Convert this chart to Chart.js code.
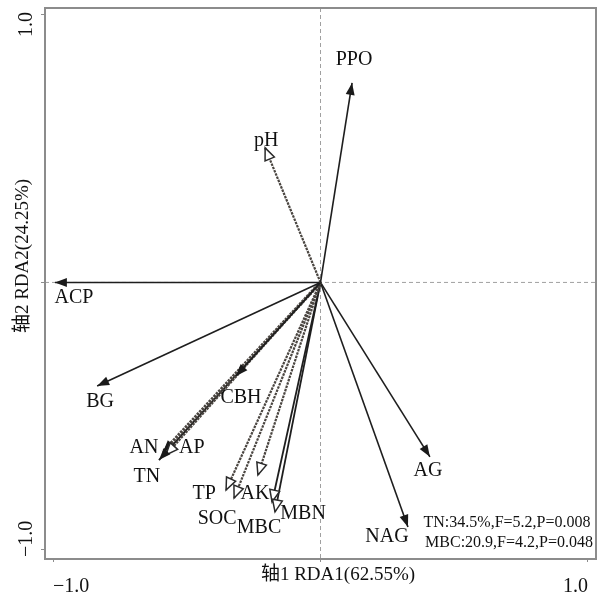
<!DOCTYPE html>
<html>
<head>
<meta charset="utf-8">
<script src="https://cdn.jsdelivr.net/npm/chart.js@4/dist/chart.umd.min.js"></script>
<style>
  body { margin: 0; background: #fff; }
  #wrap { width: 605px; height: 596px; }
</style>
</head>
<body>
<div id="wrap"><canvas id="myChart"></canvas></div>
<script>
// RDA scores
const variables = ['PPO', 'pH', 'ACP', 'BG', 'CBH', 'AN', 'AP', 'TN', 'TP', 'SOC', 'AK', 'MBN', 'MBC', 'AG', 'NAG'];
const rda1 = [0.118, -0.207, -0.993, -0.835, -0.316, -0.589, -0.578, -0.604, -0.353, -0.323, -0.234, -0.181, -0.170, 0.409, 0.327];
const rda2 = [0.746, 0.503, 0.000, -0.387, -0.350, -0.634, -0.645, -0.664, -0.776, -0.806, -0.720, -0.821, -0.858, -0.652, -0.914];

const tickValues = [-1, 0, 1];
const tickLabels = ['−1.0', '', '1.0'];
const xTitle = '轴1 RDA1(62.55%)';
const yTitle = '轴2 RDA2(24.25%)';
const statLines = ['TN:34.5%,F=5.2,P=0.008', 'MBC:20.9,F=4.2,P=0.048'];

// drawing style per arrow
const dashed = [false, true, false, false, false, true, true, false, true, true, true, false, false, false, false];
const openHead = [false, true, false, false, false, false, true, false, true, true, true, true, true, false, false];
const lineWidths = [1.6, 2.2, 1.6, 1.6, 1.6, 3.5, 2.2, 1.8, 2.2, 2.2, 2.2, 1.8, 1.8, 1.6, 1.6];
// label offset from arrow tip (px)
const labelOffsets = [[2, -23], [1, -7], [19, 15], [3, 16], [5, 22], [-19, -4], [26, -7], [-12, 17],
  [-22, 4], [-17, 21], [-3, 19], [31, 12], [-16, 16], [-2, 14], [-21, 10]];

const serif = "'Liberation Serif', 'Noto Sans CJK SC', serif";

const datasets = variables.map((v, i) => ({
  label: v,
  data: [{ x: 0, y: 0 }, { x: rda1[i], y: rda2[i] }],
  showLine: true,
  borderColor: dashed[i] ? '#4a4540' : '#1e1e1e',
  borderWidth: lineWidths[i],
  borderDash: dashed[i] ? [2.5, 1] : [],
  pointRadius: 0,
  pointHoverRadius: 0
}));

const biplotPlugin = {
  id: 'biplot',
  beforeDatasetsDraw(chart) {
    const { ctx, chartArea: a, scales: { x, y } } = chart;
    ctx.save();
    ctx.strokeStyle = '#a0a0a0';
    ctx.lineWidth = 1;
    ctx.setLineDash([4, 3]);
    const x0 = x.getPixelForValue(0), y0 = y.getPixelForValue(0);
    ctx.beginPath();
    ctx.moveTo(x0, a.top); ctx.lineTo(x0, a.bottom);
    ctx.moveTo(a.left, y0); ctx.lineTo(a.right, y0);
    ctx.stroke();
    ctx.restore();
  },
  afterDatasetsDraw(chart) {
    const { ctx, chartArea: a, scales: { y } } = chart;
    ctx.save();
    // arrow heads
    chart.data.datasets.forEach((ds, i) => {
      const pts = chart.getDatasetMeta(i).data;
      const p0 = pts[0], p1 = pts[1];
      const ang = Math.atan2(p1.y - p0.y, p1.x - p0.x);
      const len = 12, half = openHead[i] ? 5 : 4.5;
      const bx = p1.x - len * Math.cos(ang), by = p1.y - len * Math.sin(ang);
      ctx.beginPath();
      ctx.moveTo(p1.x, p1.y);
      ctx.lineTo(bx + half * Math.sin(ang), by - half * Math.cos(ang));
      ctx.lineTo(bx - half * Math.sin(ang), by + half * Math.cos(ang));
      ctx.closePath();
      ctx.setLineDash([]);
      if (openHead[i]) {
        ctx.fillStyle = '#fff';
        ctx.fill();
        ctx.strokeStyle = '#2a2a2a';
        ctx.lineWidth = 1.5;
        ctx.stroke();
      } else {
        ctx.fillStyle = '#1a1a1a';
        ctx.fill();
      }
      // label
      ctx.fillStyle = '#111';
      ctx.font = '20px ' + serif;
      ctx.textAlign = 'center';
      ctx.textBaseline = 'middle';
      ctx.fillText(variables[i], p1.x + labelOffsets[i][0], p1.y + labelOffsets[i][1]);
    });

    // frame
    ctx.strokeStyle = '#8c8c8c';
    ctx.lineWidth = 2;
    ctx.strokeRect(a.left, a.top, a.right - a.left, a.bottom - a.top);

    // stats text
    ctx.fillStyle = '#111';
    ctx.font = '16px ' + serif;
    ctx.textAlign = 'center';
    ctx.fillText(statLines[0], 507, 523);
    ctx.fillText(statLines[1], 509, 543);

    // y tick labels (rotated)
    ctx.font = '20px ' + serif;
    y.ticks.forEach((t) => {
      const lab = tickLabels[tickValues.indexOf(t.value)];
      if (!lab) return;
      const py = y.getPixelForValue(t.value);
      ctx.save();
      ctx.translate(27, t.value > 0 ? py - 3 : py + 7);
      ctx.rotate(-Math.PI / 2);
      ctx.textAlign = t.value > 0 ? 'right' : 'left';
      ctx.textBaseline = 'middle';
      ctx.fillText(lab, 0, 0);
      ctx.restore();
    });

    // axis titles
    ctx.font = '19px ' + serif;
    ctx.textAlign = 'center';
    ctx.textBaseline = 'middle';
    ctx.fillText(xTitle, 338, 575);
    ctx.save();
    ctx.translate(23, 256);
    ctx.rotate(-Math.PI / 2);
    ctx.fillText(yTitle, 0, 0);
    ctx.restore();
    ctx.restore();
  }
};

const config = {
  type: 'scatter',
  data: { datasets: datasets },
  options: {
    responsive: true,
    maintainAspectRatio: false,
    animation: false,
    layout: { padding: { top: 8, right: 9, left: 0, bottom: 0 } },
    plugins: { legend: { display: false }, tooltip: { enabled: false } },
    scales: {
      x: {
        type: 'linear',
        min: -1.03,
        max: 1.03,
        afterBuildTicks: (s) => { s.ticks = tickValues.map(v => ({ value: v })); },
        afterFit: (s) => { s.height = 37; },
        grid: { drawOnChartArea: false, drawTicks: true, tickLength: 3, color: '#8c8c8c' },
        border: { display: false },
        ticks: {
          align: 'inner',
          padding: 13,
          color: '#111',
          font: { family: serif, size: 20 },
          callback: (v) => tickLabels[tickValues.indexOf(v)]
        }
      },
      y: {
        type: 'linear',
        min: -1.034,
        max: 1.026,
        afterBuildTicks: (s) => { s.ticks = tickValues.map(v => ({ value: v })); },
        afterFit: (s) => { s.width = 45; },
        grid: { drawOnChartArea: false, drawTicks: true, tickLength: 4, color: '#8c8c8c' },
        border: { display: false },
        ticks: { display: false }
      }
    }
  },
  plugins: [biplotPlugin]
};

const myChart = new Chart(document.getElementById('myChart'), config);
</script>
</body>
</html>
